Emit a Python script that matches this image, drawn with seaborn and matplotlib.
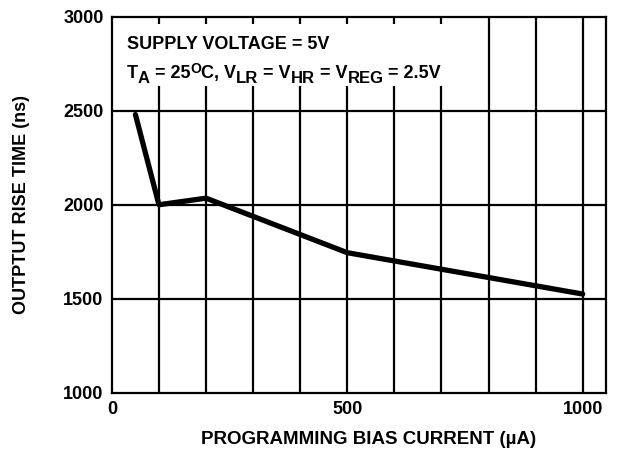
import pandas as pd
import seaborn as sns
import matplotlib.pyplot as plt
from matplotlib.patches import Rectangle
from matplotlib.transforms import offset_copy

# values
bias_current = [50, 100, 200, 500, 1000]           # uA
rise_time = [2480, 2000, 2035, 1745, 1525]          # ns

x_ticks = [0, 500, 1000]
x_grid = [100, 200, 300, 400, 500, 600, 700, 800, 900, 1000]
y_ticks = [1000, 1500, 2000, 2500, 3000]

# second condition line, split in pieces: (text, kind)
cond_pieces = [('T', 'n'), ('A', 'sub'), (' = 25', 'n'), ('O', 'sup'),
               ('C, V', 'n'), ('LR', 'sub'), (' = V', 'n'), ('HR', 'sub'),
               (' = V', 'n'), ('REG', 'sub'), (' = 2.5V', 'n')]

sns.set_style('white')
plt.rcParams['font.family'] = ['Liberation Sans', 'DejaVu Sans']
plt.rcParams['font.weight'] = 'bold'
plt.rcParams['text.color'] = 'black'
plt.rcParams['axes.labelcolor'] = 'black'
plt.rcParams['xtick.color'] = 'black'
plt.rcParams['ytick.color'] = 'black'

df = pd.DataFrame({'current': bias_current, 'rise': rise_time})

fig = plt.figure(figsize=(6.18, 4.53), dpi=100)
ax = fig.add_axes([0.181, 0.133, 0.800, 0.830])

# grid drawn by hand so the text panel can sit over it
for gx in x_grid:
    ax.axvline(gx, color='black', lw=1.6, zorder=1)
for gy in y_ticks[1:-1]:
    ax.axhline(gy, color='black', lw=1.6, zorder=1)

# white panel behind the condition text
ax.add_patch(Rectangle((0.005, 0.815), 0.715, 0.165, transform=ax.transAxes,
                       facecolor='white', edgecolor='none', zorder=2))

sns.lineplot(data=df, x='current', y='rise', color='black', linewidth=3.8,
             ax=ax, zorder=3)

ax.set_xlim(0, 1050)
ax.set_ylim(1000, 3000)
ax.set_xticks(x_ticks)
ax.set_yticks(y_ticks)
ax.tick_params(length=0, labelsize=13, pad=6)
for lab in ax.get_xticklabels() + ax.get_yticklabels():
    lab.set_fontweight('bold')

for sp in ax.spines.values():
    sp.set_color('black')
    sp.set_linewidth(1.6)
    sp.set_zorder(4)

ax.set_xlabel('PROGRAMMING BIAS CURRENT (\u00b5A)', fontsize=13.5, fontweight='bold')
ax.xaxis.set_label_coords(0.52, -0.102)
ax.set_ylabel('OUTPTUT RISE TIME (ns)', fontsize=13, fontweight='bold', labelpad=24)

ax.text(0.03, 0.915, 'SUPPLY VOLTAGE = 5V', transform=ax.transAxes,
        fontsize=13, fontweight='bold', va='baseline', zorder=5)

# second line: lay the pieces out one after another on a common baseline
renderer = fig.canvas.get_renderer()
x_off = 0.0
for txt, kind in cond_pieces:
    if kind == 'sub':
        dy, fs = -5, 12
    elif kind == 'sup':
        dy, fs = 5, 10
    else:
        dy, fs = 0, 13
    tr = offset_copy(ax.transAxes, fig=fig, x=x_off, y=dy, units='dots')
    t = ax.text(0.03, 0.838, txt, transform=tr, fontsize=fs,
                fontweight='bold', va='baseline', zorder=5)
    x_off += t.get_window_extent(renderer=renderer).width

fig.savefig('out.png', dpi=100)
